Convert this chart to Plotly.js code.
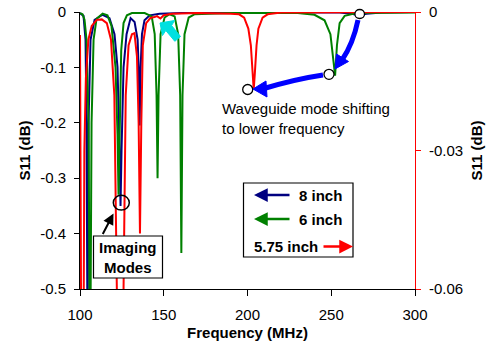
<!DOCTYPE html>
<html>
<head>
<meta charset="utf-8">
<script src="https://cdn.plot.ly/plotly-3.0.1.min.js"></script>
<style>html,body{margin:0;padding:0;background:#fff;}#chart{width:498px;height:345px;}</style>
</head>
<body>
<div id="chart"></div>
<script>
// ---- Data ----
const freq8 = [100,102.1,103.3,103.9,104.5,105.1,106.3,108.7,113.5,117.6,120.6,122.4,123.6,124.2,124.8,126,127.8,130.2,132.6,134.4,135.0,135.6,136.2,137,138.5,141.6,147.5,170,200,255,262,266.5,271,280,300];
const s11_8 = [-0.002,-0.007,-0.05,-0.2,-0.6,-0.2,-0.05,-0.014,-0.005,-0.011,-0.04,-0.1,-0.25,-0.35,-0.25,-0.1,-0.04,-0.011,-0.018,-0.05,-0.1,-0.205,-0.1,-0.04,-0.015,-0.006,-0.003,-0.001,-0.001,-0.001,-0.003,-0.006,-0.003,-0.001,0];

const freq6 = [100,101.5,102.7,103.9,105.1,106.0,106.9,108.1,109.9,113.5,116.4,118.8,121.2,122.4,123.0,123.6,124.6,126,128,131,138.6,142.8,144.6,145.7,146.3,146.9,148.1,150.5,153.5,156.5,158.6,159.8,160.5,161.2,162.4,164.9,168.5,190,230,240,246,249.5,251.2,252.3,253.4,255,258,265,300];
const s11_6 = [-0.002,-0.004,-0.014,-0.05,-0.2,-0.7,-0.2,-0.05,-0.012,-0.003,-0.006,-0.025,-0.1,-0.22,-0.33,-0.2,-0.07,-0.02,-0.006,-0.002,-0.002,-0.008,-0.04,-0.15,-0.30,-0.15,-0.04,-0.01,-0.004,-0.008,-0.04,-0.15,-0.435,-0.15,-0.04,-0.01,-0.004,-0.002,-0.002,-0.005,-0.015,-0.04,-0.08,-0.115,-0.06,-0.02,-0.007,-0.002,-0.001];

// 5.75 inch values are read on the right-hand axis
const freq575 = [100,100.3,100.6,101.2,102.0,102.6,103.5,105,107,110,113,116,118.5,120.5,122.0,124.0,126.0,127.3,129,131,132.5,134,135,135.8,136.6,137.5,139.5,142,144.5,146,148,150,155,170,190,195,198,200.5,202,203,203.7,204.4,205.4,206.5,209,212,220,300];
const s11_575 = [-0.005,-0.03,-0.06,-0.15,-0.06,-0.03,-0.0144,-0.006,-0.003,-0.0017,-0.0016,-0.0024,-0.006,-0.018,-0.06,-0.18,-0.06,-0.018,-0.0072,-0.0048,-0.0046,-0.0096,-0.024,-0.048,-0.024,-0.0072,-0.0024,-0.0013,-0.0011,-0.0009,-0.0014,-0.0007,-0.0004,-0.0002,-0.0004,-0.0005,-0.0012,-0.0036,-0.0072,-0.0132,-0.0168,-0.0132,-0.0072,-0.0036,-0.0012,-0.0005,-0.0001,0];

const seriesNames = ['8 inch','6 inch','5.75 inch'];
const xTicks = [100,150,200,250,300];
const xTickText = ['100','150','200','250','300'];
const yTicks = [-0.5,-0.4,-0.3,-0.2,-0.1,0];
const yTickText = ['-0.5','-0.4','-0.3','-0.2','-0.1','0'];
const y2Ticks = [-0.06,-0.03,0];
const y2TickText = ['-0.06','-0.03','0'];

// ---- Layout helpers (pixel -> paper) ----
const L=80, T=12, W=335, H=277;
const px = p => (p - L)/W;
const py = p => (T + H - p)/H;
const FONT = 'Liberation Sans, Arial, Helvetica, sans-serif';

const traces = [
  {x:freq8, y:s11_8, name:seriesNames[0], mode:'lines', line:{color:'#000080', width:2}, yaxis:'y'},
  {x:freq6, y:s11_6, name:seriesNames[1], mode:'lines', line:{color:'#008000', width:2}, yaxis:'y'},
  {x:freq575, y:s11_575, name:seriesNames[2], mode:'lines', line:{color:'#ff0000', width:2}, yaxis:'y2'}
];

function circ(cx, cy, rx, ry, lw){
  return {type:'circle', xref:'paper', yref:'paper', x0:px(cx-rx), x1:px(cx+rx), y0:py(cy+ry), y1:py(cy-ry),
          line:{color:'#000', width:lw||1.5}, fillcolor:'rgba(255,255,255,0)', layer:'above'};
}
function pathP(pts){
  return pts.map(s => s[0] + ' ' + s.slice(1).reduce((a,v,i)=>{ if(i%2===0){a.push(px(v).toFixed(5));} else {a[a.length-1]+=','+py(v).toFixed(5);} return a;},[]).join(' ')).join(' ');
}

const shapes = [
  {type:'rect', xref:'paper', yref:'paper', x0:px(93.5), x1:px(162.5), y0:py(278), y1:py(236), line:{color:'#000', width:1.2}, fillcolor:'#fff', layer:'above'},
  {type:'rect', xref:'paper', yref:'paper', x0:px(243.5), x1:px(353), y0:py(257), y1:py(183), line:{color:'#000', width:1.2}, fillcolor:'rgba(255,255,255,0)', layer:'above'},
  circ(121.3, 202.7, 8, 7.4, 1.5),
  Object.assign(circ(247.7, 89.5, 5, 5, 1.3), {fillcolor:'#fff'}),
  Object.assign(circ(329, 74.3, 5, 5, 1.3), {fillcolor:'#fff'}),
  Object.assign(circ(359.7, 14, 4.8, 4.5, 1.3), {fillcolor:'#fff'}),
  {type:'path', xref:'paper', yref:'paper', path: pathP([['M',358,20],['Q',353,44,342,60]]), line:{color:'#0000ff', width:5}, layer:'above'},
  {type:'path', xref:'paper', yref:'paper', path: pathP([['M',323,75],['Q',296,79,264,88.5]]), line:{color:'#0000ff', width:5}, layer:'above'},
  {type:'path', xref:'paper', yref:'paper', path: pathP([['M',335,69],['L',336.5,54],['L',348.5,61.5]])+' Z', line:{color:'#0000ff', width:1}, fillcolor:'#0000ff', layer:'above'},
  {type:'path', xref:'paper', yref:'paper', path: pathP([['M',253,89],['L',266,81],['L',267,97]])+' Z', line:{color:'#0000ff', width:1}, fillcolor:'#0000ff', layer:'above'},
  {type:'path', xref:'paper', yref:'paper', path: pathP([['M',160,23],['L',174.5,20.5],['L',171.6,25.6],['L',180.5,36.5],['L',174.8,41.3],['L',165.8,30.5],['L',162.5,35.5]])+' Z', line:{color:'#00e0e0', width:1}, fillcolor:'#00e0e0', layer:'above'}
];

function arrow(hx, hy, tx, ty, color, w){
  return {xref:'paper', yref:'paper', x:px(hx), y:py(hy), ax:tx-hx, ay:ty-hy, axref:'pixel', ayref:'pixel', text:'', showarrow:true,
          arrowhead:2, arrowsize:1.1, arrowwidth:w||2.2, arrowcolor:color};
}
function txt(x, y, text, opts){
  return Object.assign({xref:'paper', yref:'paper', x:px(x), y:py(y), text:text, showarrow:false, xanchor:'left', yanchor:'middle',
          font:{family:FONT, size:15, color:'#000'}, borderpad:0}, opts||{});
}

const annotations = [
  arrow(113.5, 213.5, 102, 235.5, '#000', 2),
  txt(128, 257, '<b>Imaging</b><br><b>Modes</b>', {xanchor:'center', align:'center'}),
  txt(221, 118, 'Waveguide mode shifting<br>to lower frequency', {align:'left'}),
  arrow(254, 195, 291, 195, '#000080', 2.5),
  arrow(254, 219, 291, 219, '#008000', 2.5),
  arrow(353, 246.5, 322, 246.5, '#ff0000', 2.5),
  txt(298, 195, '<b>8 inch</b>'),
  txt(298, 219, '<b>6 inch</b>'),
  txt(253, 246.5, '<b>5.75 inch</b>')
];

const layout = {
  width:498, height:345,
  margin:{l:L, r:498-L-W, t:T, b:345-T-H, pad:0},
  paper_bgcolor:'#fff', plot_bgcolor:'#fff',
  showlegend:false,
  font:{family:FONT, size:15, color:'#000'},
  xaxis:{range:[100,300], tickvals:xTicks, ticktext:xTickText, ticks:'outside', ticklen:6, tickcolor:'#000',
         showline:true, linecolor:'#000', linewidth:1, showgrid:false, zeroline:false, fixedrange:true,
         ticklabelstandoff:6,
         title:{text:'<b>Frequency (MHz)</b>', font:{size:15}, standoff:5}},
  yaxis:{range:[-0.5,0], tickvals:yTicks, ticktext:yTickText, ticks:'outside', ticklen:5, tickcolor:'#000',
         showline:true, linecolor:'#000', linewidth:1, showgrid:false, zeroline:false, fixedrange:true,
         ticklabelstandoff:5,
         title:{text:'<b>S11 (dB)</b>', font:{size:15}, standoff:5}},
  yaxis2:{range:[-0.06,0], overlaying:'y', side:'right', tickvals:y2Ticks, ticktext:y2TickText, ticks:'outside', ticklen:5,
          tickcolor:'#ff0000', showline:true, linecolor:'#ff0000', linewidth:1, showgrid:false, zeroline:false, fixedrange:true,
          ticklabelstandoff:5,
          title:{text:'<b>S11 (dB)</b>', font:{size:15}, standoff:9}},
  shapes:shapes,
  annotations:annotations
};

Plotly.newPlot('chart', traces, layout, {staticPlot:true, displayModeBar:false});
</script>
</body>
</html>
